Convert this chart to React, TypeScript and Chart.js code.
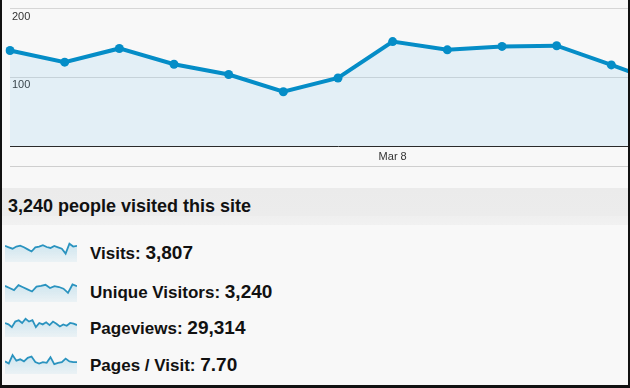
import React, { useEffect, useRef } from 'react';
import { Chart, registerables } from 'chart.js';

Chart.register(...registerables);

// ---- data ----
const dates = ['Mar 1', 'Mar 2', 'Mar 3', 'Mar 4', 'Mar 5', 'Mar 6', 'Mar 7', 'Mar 8', 'Mar 9', 'Mar 10', 'Mar 11', 'Mar 12', 'Mar 13'];
const dailyVisits = [139, 122, 142, 119, 104, 79, 99, 152, 140, 145, 146, 118, 89];
const yTickValues = [100, 200];
const xTickLabels = ['Mar 8'];

const sparkVisits = [70, 60, 50, 65, 72, 60, 45, 30, 60, 65, 75, 62, 55, 70, 60, 50, 15, 85, 65, 70];
const sparkUnique = [70, 55, 40, 75, 60, 45, 30, 65, 70, 78, 55, 68, 62, 50, 20, 80, 68];
const sparkPageviews = [55, 45, 25, 65, 75, 55, 85, 65, 75, 25, 55, 45, 60, 40, 65, 50, 30, 45, 35, 55, 50, 40];
const sparkPagesPerVisit = [45, 30, 90, 50, 60, 45, 70, 80, 40, 30, 40, 35, 75, 25, 35, 40, 65, 45, 40, 40];

const summaryTitle = '3,240 people visited this site';
const metricLabels = ['Visits:', 'Unique Visitors:', 'Pageviews:', 'Pages / Visit:'];
const metricValues = ['3,807', '3,240', '29,314', '7.70'];

const FONT = '"Liberation Sans", Arial, Helvetica, sans-serif';

function MainChart() {
  const ref = useRef<HTMLCanvasElement>(null);
  useEffect(() => {
    const chart = new Chart(ref.current as HTMLCanvasElement, {
      type: 'line',
      data: {
        labels: dates,
        datasets: [
          {
            data: dailyVisits,
            borderColor: '#058dc7',
            borderWidth: 4,
            backgroundColor: 'rgba(80,180,240,0.12)',
            fill: 'origin',
            pointRadius: 4.5,
            pointBackgroundColor: '#058dc7',
            pointBorderColor: '#058dc7',
            pointBorderWidth: 0,
            tension: 0,
          },
        ],
      },
      options: {
        responsive: false,
        animation: false,
        layout: { padding: { left: 10, right: 14, top: 6, bottom: 0 } },
        plugins: { legend: { display: false }, tooltip: { enabled: false } },
        scales: {
          x: {
            type: 'category',
            offset: false,
            grid: { display: false, drawTicks: false },
            border: { display: true, color: '#2a2a2a', width: 1 },
            ticks: {
              autoSkip: false,
              maxRotation: 0,
              padding: 4,
              color: '#333',
              font: { family: FONT, size: 11 },
              callback: (_v: any, i: number) => (xTickLabels.includes(dates[i]) ? dates[i] : ''),
            },
            afterFit: (s: any) => {
              s.height = 20;
            },
          },
          y: {
            min: 0,
            max: 200,
            grid: {
              drawTicks: false,
              color: (ctx: any) => (ctx.tick && yTickValues.includes(ctx.tick.value) ? '#d6d6d6' : 'rgba(0,0,0,0)'),
            },
            border: { display: false },
            ticks: {
              stepSize: 100,
              autoSkip: false,
              mirror: true,
              padding: 2,
              labelOffset: 8,
              color: '#333',
              font: { family: FONT, size: 11 },
              callback: (v: any) => (yTickValues.includes(Number(v)) ? String(v) : ''),
            },
            afterFit: (s: any) => {
              s.width = 0;
            },
          },
        },
      },
    });
    return () => chart.destroy();
  }, []);
  return (
    <canvas
      ref={ref}
      width={680}
      height={166}
      style={{ position: 'absolute', left: 0, top: 0, width: 680, height: 166 }}
    />
  );
}

function Spark({ data, top }: { data: number[]; top: number }) {
  const ref = useRef<HTMLCanvasElement>(null);
  useEffect(() => {
    const chart = new Chart(ref.current as HTMLCanvasElement, {
      type: 'line',
      data: {
        labels: data.map((_, i) => String(i)),
        datasets: [
          {
            data,
            borderColor: '#2a93bf',
            borderWidth: 1.8,
            pointRadius: 0,
            tension: 0,
            fill: 'start',
            backgroundColor: (ctx: any) => {
              const area = ctx.chart.chartArea;
              if (!area) return 'rgba(5,141,199,0.12)';
              const g = ctx.chart.ctx.createLinearGradient(0, area.top, 0, area.bottom);
              g.addColorStop(0, 'rgba(5,141,199,0.20)');
              g.addColorStop(1, 'rgba(5,141,199,0.05)');
              return g;
            },
          },
        ],
      },
      options: {
        responsive: false,
        animation: false,
        layout: { padding: 0 },
        plugins: { legend: { display: false }, tooltip: { enabled: false } },
        scales: {
          x: { display: false, offset: false },
          y: { display: false, min: -45, max: 112 },
        },
      },
    });
    return () => chart.destroy();
  }, [data]);
  return (
    <canvas
      ref={ref}
      width={72}
      height={22}
      style={{ position: 'absolute', left: 5, top, width: 72, height: 22 }}
    />
  );
}

export default function App() {
  const sparks = [sparkVisits, sparkUnique, sparkPageviews, sparkPagesPerVisit];
  const sparkTops = [240, 280, 315, 352];
  const textCenters = [253, 291.5, 328, 365];
  return (
    <div
      style={{
        position: 'absolute',
        left: 0,
        top: 0,
        width: 630,
        height: 388,
        overflow: 'hidden',
        background: '#f8f8f8',
        fontFamily: FONT,
      }}
    >
      <MainChart />
      <div style={{ position: 'absolute', left: 10, top: 166, width: 620, height: 1, background: '#cfcfcf' }} />
      <div
        style={{
          position: 'absolute',
          left: 0,
          top: 188,
          width: 630,
          height: 37,
          background: 'linear-gradient(#ebebeb 0%, #ececec 75%, #efefef 76%, #f1f1f1 100%)',
        }}
      />
      <div
        style={{
          position: 'absolute',
          left: 8,
          top: 195,
          height: 22,
          lineHeight: '22px',
          fontSize: 18,
          fontWeight: 'bold',
          color: '#111',
          whiteSpace: 'nowrap',
        }}
      >
        {summaryTitle}
      </div>
      {sparks.map((d, i) => (
        <Spark key={i} data={d} top={sparkTops[i]} />
      ))}
      {metricLabels.map((lab, i) => (
        <div
          key={lab}
          style={{
            position: 'absolute',
            left: 90,
            top: textCenters[i] - 12,
            height: 24,
            lineHeight: '24px',
            color: '#111',
            fontWeight: 'bold',
            whiteSpace: 'nowrap',
          }}
        >
          <span style={{ fontSize: 17 }}>{lab} </span>
          <span style={{ fontSize: 19 }}>{metricValues[i]}</span>
        </div>
      ))}
      <div style={{ position: 'absolute', left: 0, top: 0, width: 2, height: 388, background: '#111' }} />
      <div style={{ position: 'absolute', left: 628, top: 0, width: 2, height: 388, background: '#111' }} />
      <div style={{ position: 'absolute', left: 0, top: 385, width: 630, height: 3, background: '#111' }} />
    </div>
  );
}
